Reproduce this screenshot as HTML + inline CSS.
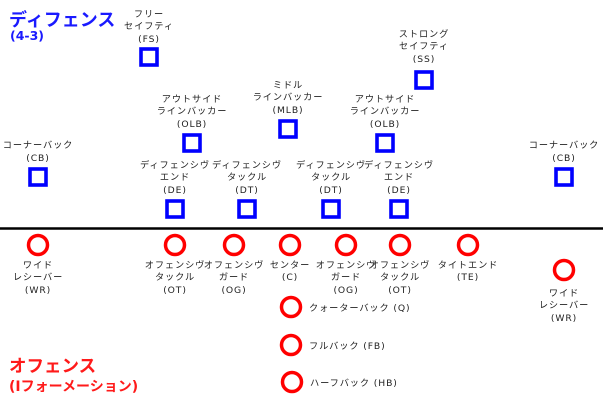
<!DOCTYPE html>
<html><head><meta charset="utf-8"><style>
html,body{margin:0;padding:0;background:#fff;width:603px;height:404px;overflow:hidden}
svg{display:block}
text{font-family:"DejaVu Sans","Noto Sans CJK JP",sans-serif;font-size:9.2px;letter-spacing:0.9px;fill:#222;text-anchor:middle}
.t{font-weight:bold;text-anchor:start;letter-spacing:0}
</style></head><body>
<svg width="603" height="404" viewBox="0 0 603 404">
<text class="t" x="9" y="26" style="font-size:18px;fill:#1a1aff">ディフェンス</text>
<text class="t" x="10" y="40" style="font-size:12.5px;fill:#1a1aff">(4-3)</text>
<text class="t" x="9" y="372" style="font-size:17.5px;fill:#ff1a1a">オフェンス</text>
<text class="t" x="9" y="391" style="font-size:14px;fill:#ff1a1a">(Iフォーメーション)</text>

<line x1="0" y1="228.5" x2="603" y2="228.5" stroke="#000" stroke-width="2.5"/>

<g fill="none" stroke="#0000ff" stroke-width="3.6">
<rect x="141" y="49" width="16" height="16"/>
<rect x="416" y="72" width="16" height="16"/>
<rect x="280" y="121" width="16" height="16"/>
<rect x="184" y="135" width="16" height="16"/>
<rect x="377" y="135" width="16" height="16"/>
<rect x="30" y="169" width="16" height="16"/>
<rect x="556" y="169" width="16" height="16"/>
<rect x="167" y="201" width="16" height="16"/>
<rect x="239" y="201" width="16" height="16"/>
<rect x="323" y="201" width="16" height="16"/>
<rect x="391" y="201" width="16" height="16"/>
</g>

<text x="149" y="17">フリー</text><text x="149" y="29">セイフティ</text><text x="149" y="42">(FS)</text>
<text x="424" y="37">ストロング</text><text x="424" y="49">セイフティ</text><text x="424" y="62">(SS)</text>
<text x="288" y="88">ミドル</text><text x="288" y="100">ラインバッカー</text><text x="288" y="113">(MLB)</text>
<text x="192" y="102">アウトサイド</text><text x="192" y="114">ラインバッカー</text><text x="192" y="127">(OLB)</text>
<text x="385" y="102">アウトサイド</text><text x="385" y="114">ラインバッカー</text><text x="385" y="127">(OLB)</text>
<text x="38" y="148">コーナーバック</text><text x="38" y="161">(CB)</text>
<text x="564" y="148">コーナーバック</text><text x="564" y="161">(CB)</text>
<text x="175" y="168">ディフェンシヴ</text><text x="175" y="180">エンド</text><text x="175" y="193">(DE)</text>
<text x="247" y="168">ディフェンシヴ</text><text x="247" y="180">タックル</text><text x="247" y="193">(DT)</text>
<text x="331" y="168">ディフェンシヴ</text><text x="331" y="180">タックル</text><text x="331" y="193">(DT)</text>
<text x="399" y="168">ディフェンシヴ</text><text x="399" y="180">エンド</text><text x="399" y="193">(DE)</text>

<g fill="none" stroke="#ff0000" stroke-width="3.5">
<circle cx="38" cy="245" r="9.5"/>
<circle cx="175" cy="245" r="9.5"/>
<circle cx="234" cy="245" r="9.5"/>
<circle cx="290" cy="245" r="9.5"/>
<circle cx="346" cy="245" r="9.5"/>
<circle cx="400" cy="245" r="9.5"/>
<circle cx="468" cy="245" r="9.5"/>
<circle cx="564" cy="270" r="9.5"/>
<circle cx="291" cy="307" r="9.5"/>
<circle cx="291" cy="345" r="9.5"/>
<circle cx="292" cy="382" r="9.5"/>
</g>

<text x="38" y="268">ワイド</text><text x="38" y="280">レシーバー</text><text x="38" y="293">(WR)</text>
<text x="175" y="268">オフェンシヴ</text><text x="175" y="280">タックル</text><text x="175" y="293">(OT)</text>
<text x="234" y="268">オフェンシヴ</text><text x="234" y="280">ガード</text><text x="234" y="293">(OG)</text>
<text x="290" y="268">センター</text><text x="290" y="280">(C)</text>
<text x="346" y="268">オフェンシヴ</text><text x="346" y="280">ガード</text><text x="346" y="293">(OG)</text>
<text x="400" y="268">オフェンシヴ</text><text x="400" y="280">タックル</text><text x="400" y="293">(OT)</text>
<text x="468" y="268">タイトエンド</text><text x="468" y="280">(TE)</text>
<text x="564" y="296">ワイド</text><text x="564" y="308">レシーバー</text><text x="564" y="321">(WR)</text>
<text x="309" y="311" style="text-anchor:start">クォーターバック (Q)</text>
<text x="309" y="349" style="text-anchor:start">フルバック (FB)</text>
<text x="310" y="386" style="text-anchor:start">ハーフバック (HB)</text>
</svg>
</body></html>
